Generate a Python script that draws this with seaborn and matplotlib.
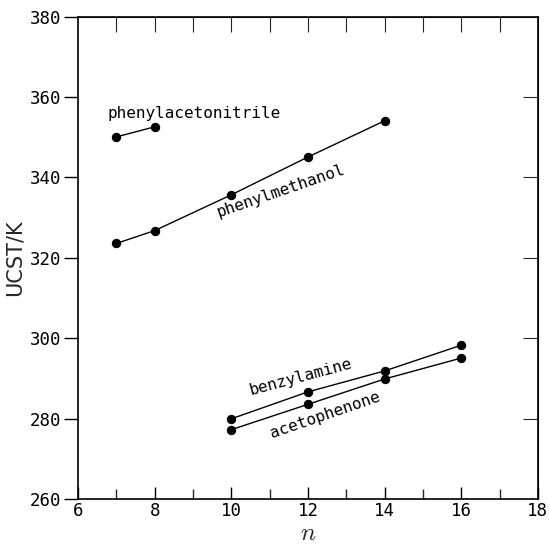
import pandas as pd
import matplotlib
matplotlib.use("Agg")
import matplotlib.pyplot as plt
import seaborn as sns

# Data
n_pan = [7, 8]
ucst_pan = [350.1, 352.6]
n_pm = [7, 8, 10, 12, 14]
ucst_pm = [323.6, 326.8, 335.7, 345.1, 354.1]
n_ba = [10, 12, 14, 16]
ucst_ba = [280.0, 286.7, 291.9, 298.3]
n_ap = [10, 12, 14, 16]
ucst_ap = [277.3, 283.6, 289.9, 295.1]

names = ["phenylacetonitrile", "phenylmethanol", "benzylamine", "acetophenone"]

df = pd.concat([
    pd.DataFrame({"n": n_pan, "UCST": ucst_pan, "solvent": names[0]}),
    pd.DataFrame({"n": n_pm, "UCST": ucst_pm, "solvent": names[1]}),
    pd.DataFrame({"n": n_ba, "UCST": ucst_ba, "solvent": names[2]}),
    pd.DataFrame({"n": n_ap, "UCST": ucst_ap, "solvent": names[3]}),
])

sns.set_style("ticks")
plt.rcParams["font.family"] = ["DejaVu Sans Mono", "DejaVu Sans"]
plt.rcParams["mathtext.fontset"] = "cm"

fig = plt.figure(figsize=(5.5, 5.45), dpi=100)
ax = fig.add_axes([0.142, 0.084, 0.836, 0.8855])

sns.lineplot(data=df, x="n", y="UCST", units="solvent", estimator=None,
             color="black", marker="o", markersize=6, markeredgecolor="black",
             linewidth=1.0, legend=False, ax=ax)

ax.set_xlim(6, 18)
ax.set_ylim(260, 380)
ax.set_xticks(range(6, 19, 2))
ax.set_xticks(range(7, 18, 2), minor=True)
ax.set_yticks(range(260, 381, 20))

for s in ax.spines.values():
    s.set_linewidth(1.2)
    s.set_color("black")

ax.tick_params(axis="x", which="major", direction="in", length=9, width=1,
               labelsize=12.5, pad=2, colors="black")
ax.tick_params(axis="x", which="minor", direction="in", length=7, width=1)
ax.tick_params(axis="y", which="major", direction="out", length=10, width=1,
               labelsize=12.5, pad=2, colors="black")

top = ax.secondary_xaxis("top")
top.set_xticks(range(7, 18))
top.tick_params(direction="in", length=11, width=0.8, labeltop=False)
right = ax.secondary_yaxis("right")
right.set_yticks(range(280, 380, 20))
right.tick_params(direction="in", length=11, width=0.8, labelright=False)

ax.set_xlabel("$n$", fontsize=18, labelpad=1)
ax.set_ylabel("UCST/K", fontsize=15, family="DejaVu Sans", labelpad=4)

lab = dict(fontsize=11.5, color="black", rotation_mode="anchor",
           ha="center", va="center")
ax.text(9.04, 355.8, names[0], rotation=0, **lab)
ax.text(11.3, 336.6, names[1], rotation=19, **lab)
ax.text(11.8, 290.4, names[2], rotation=15, **lab)
ax.text(12.45, 281.0, names[3], rotation=19, **lab)

fig.savefig("out.png", dpi=100)
